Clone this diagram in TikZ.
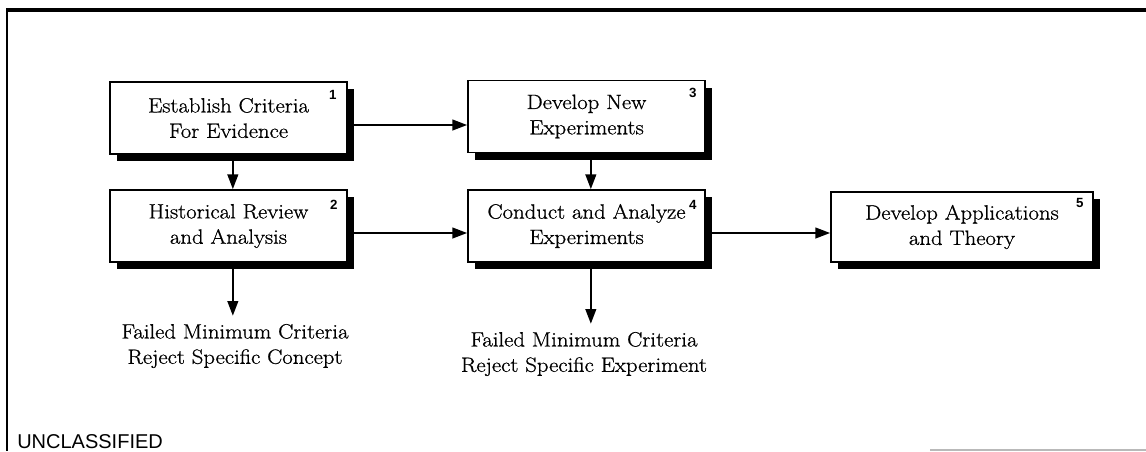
\documentclass[tikz,border=0pt]{standalone}
\usepackage{fontspec}
\newfontfamily\labelfont{Liberation Sans}
\newfontfamily\boxfont[FakeStretch=1.1,FakeBold=0.8]{Latin Modern Roman}
\usetikzlibrary{positioning,arrows.meta}

\begin{document}
\begin{tikzpicture}[x=0.75pt,y=-0.75pt,
    block/.style={draw,line width=1.3pt,fill=white,align=center,inner sep=0pt,minimum width=177.75pt,minimum height=54pt,font=\boxfont\fontsize{15.5}{19}\selectfont},
    dropbox/.style={fill=black,inner sep=0pt,outer sep=0pt,minimum width=177.75pt,minimum height=54pt}]
            \tikzstyle{flow}=[line width=1.4pt,-{Triangle[length=11pt,width=8pt]}]
            \tikzstyle{num}=[font=\labelfont\bfseries\fontsize{10}{10}\selectfont,inner sep=0pt]
            \tikzstyle{fail}=[align=center,inner sep=0pt,font=\boxfont\fontsize{15.5}{19}\selectfont]
            \useasboundingbox (0,0) rectangle (1146,451);
            % frame
            \draw[line width=2.6pt] (1146,10) -- (6,10);
            \draw[line width=2pt] (7,9) -- (7,451);
            \draw[gray!55,line width=0.8pt] (930,450) -- (1146,450);
            % shadows
            \node[dropbox] (b1s) at (235.5,125) {};
            \node[dropbox] (b2s) at (235.5,233) {};
            \node[dropbox] (b3s) at (593.5,123.5) {};
            \node[dropbox] (b4s) at (593.5,233) {};
            \node[dropbox,minimum width=196.5pt,minimum height=52.5pt] (b5s) at (969,234) {};
            % boxes
            \node[block] (b1) at (228.5,118) {Establish Criteria\\For Evidence};
            \node[block] (b2) at (228.5,226) {Historical Review\\and Analysis};
            \node[block] (b3) at (586.5,116.5) {Develop New\\Experiments};
            \node[block] (b4) at (586.5,226) {Conduct and Analyze\\Experiments};
            \node[block,minimum width=196.5pt,minimum height=52.5pt] (b5) at (962,227) {Develop Applications\\and Theory};
            \node[num] (n1) at ([shift={(-15,14)}]b1.north east) {1};
            \node[num] (n2) at ([shift={(-14,16)}]b2.north east) {2};
            \node[num] (n3) at ([shift={(-13,13)}]b3.north east) {3};
            \node[num] (n4) at ([shift={(-13,16)}]b4.north east) {4};
            \node[num] (n5) at ([shift={(-14,12)}]b5.north east) {5};
            % outcomes
            \node[fail] (f2) at (235,346) {Failed Minimum Criteria\\Reject Specific Concept};
            \node[fail] (f4) at (584,354) {Failed Minimum Criteria\\Reject Specific Experiment};
            \node[anchor=base west,inner sep=0pt,font=\labelfont\fontsize{15}{15}\selectfont] (cls) at (17,448) {UNCLASSIFIED};
            % connectors
            \draw[flow] (b1s.east) -- (b1s.east -| b3.west);
            \draw[flow] (b2s.east) -- (b2s.east -| b4.west);
            \draw[flow] (b4s.east) -- (b4s.east -| b5.west);
            \draw[flow] ([xshift=-2pt]b1s.south) -- ([xshift=-2pt]b1s.south |- b2.north);
            \draw[flow] ([xshift=-2pt]b3s.south) -- ([xshift=-2pt]b3s.south |- b4.north);
            \draw[flow] ([xshift=-2pt]b2s.south) -- ([xshift=-2pt,yshift=6pt]b2s.south |- f2.north);
            \draw[flow] ([xshift=-2pt]b4s.south) -- ([xshift=-2pt,yshift=6pt]b4s.south |- f4.north);
\end{tikzpicture}
\end{document}
